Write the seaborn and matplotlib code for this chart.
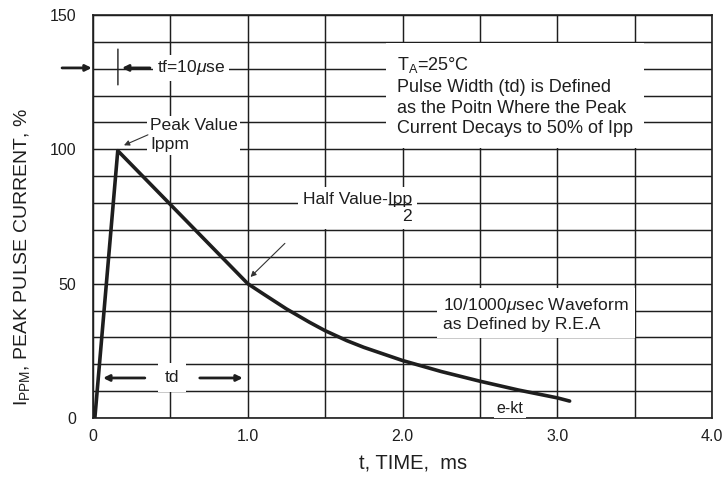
import matplotlib
matplotlib.use("Agg")
import matplotlib.pyplot as plt
import seaborn as sns
import pandas as pd
import numpy as np

# ---- data ----
time_ms = [0.012, 0.16, 1.0, 1.1, 1.25, 1.4, 1.5, 1.64, 1.75, 2.0, 2.25, 2.5, 2.75, 3.0, 3.08]
current_pct = [0, 99.5, 50, 46.2, 40.6, 35.6, 32.5, 28.8, 26.3, 21.4, 17.3, 13.7, 10.4, 7.5, 6.3]
x_tick_vals = [0, 1, 2, 3, 4]
x_tick_labels = ["0", "1.0", "2.0", "3.0", "4.0"]
y_tick_vals = [0, 50, 100, 150]
y_tick_labels = ["0", "50", "100", "150"]

sns.set_style("white")
plt.rcParams['font.family'] = ['Liberation Sans', 'DejaVu Sans']
plt.rcParams['mathtext.fontset'] = 'custom'
plt.rcParams['mathtext.rm'] = 'Liberation Sans'
plt.rcParams['mathtext.it'] = 'Liberation Sans:italic'

INK = "#1e1e1e"
fig = plt.figure(figsize=(7.24, 4.86), dpi=100)
ax = fig.add_axes([93/724, 68/486, 619/724, 403/486])

df = pd.DataFrame({"t": time_ms, "i": current_pct})
sns.lineplot(data=df, x="t", y="i", ax=ax, color=INK, lw=2.6, sort=False,
             zorder=4, estimator=None)

ax.set_xlim(0, 4)
ax.set_ylim(0, 150)
ax.set_xticks(x_tick_vals)
ax.set_xticklabels(x_tick_labels)
ax.set_xticks(np.arange(0, 4.01, 0.5), minor=True)
ax.set_yticks(y_tick_vals)
ax.set_yticklabels(y_tick_labels)
ax.set_yticks(np.arange(0, 150.1, 10), minor=True)
ax.set_axisbelow(True)
ax.grid(which='both', color=INK, lw=1.05)
ax.tick_params(which='both', length=0)
ax.tick_params(axis='y', pad=12, labelsize=11.5, colors=INK)
ax.tick_params(axis='x', pad=8, labelsize=11.5, colors=INK)
for s in ax.spines.values():
    s.set_color(INK)
    s.set_linewidth(1.2)
ax.set_xlabel("")
ax.set_ylabel("")

fig.text(413/724, 1 - 463/486, "t, TIME,  ms", ha='center', va='center',
         fontsize=14.5, color=INK)
fig.text(22/724, 1 - 257/486, r"I$_{\mathregular{PPM}}$, PEAK PULSE CURRENT, %",
         ha='center', va='center', rotation=90, fontsize=14, color=INK)

box = lambda p: dict(boxstyle=f"square,pad={p}", facecolor='white', edgecolor='none')
FS = 12.6

ax.text(1.964, 135.2, r"T$_{\mathregular{A}}$=25°C" "\nPulse Width (td) is Defined\n"
        "as the Poitn Where the Peak\nCurrent Decays to 50% of Ipp",
        ha='left', va='top', fontsize=13.0, color=INK, linespacing=1.3,
        bbox=box(0.6), zorder=3)

ax.text(0.368, 111.5, "Peak Value\nIppm", ha='left', va='top', fontsize=FS,
        color=INK, linespacing=1.3, bbox=box(0.15), zorder=3)

ax.text(1.357, 84.2, "Half Value-Ipp\n2", ha='left', va='top', fontsize=FS,
        color=INK, linespacing=1.15, multialignment='right', bbox=box(0.3), zorder=3)
ax.annotate("", xy=(2.075, 79.4), xytext=(1.895, 79.4),
            arrowprops=dict(arrowstyle='-', color=INK, lw=1.0), zorder=4)

ax.text(2.262, 45.5, r"10/1000$\mu$sec Waveform" "\nas Defined by R.E.A",
        ha='left', va='top', fontsize=FS, color=INK, linespacing=1.2,
        bbox=box(0.35), zorder=3)

ax.text(0.413, 130.3, r"tf=10$\mu$se", ha='left', va='center', fontsize=FS,
        color=INK, bbox=box(0.2), zorder=3)
ax.text(0.51, 14.9, "td", ha='center', va='center', fontsize=FS,
        color=INK, bbox=box(0.4), zorder=3)
ax.text(2.695, 3.7, "e-kt", ha='center', va='center', fontsize=11.5,
        color=INK, bbox=box(0.15), zorder=3)

thick = dict(arrowstyle='-|>', color=INK, lw=2.0, mutation_scale=9, shrinkA=0, shrinkB=0)
thin = dict(arrowstyle='-|>', color="#333333", lw=0.8, mutation_scale=8, shrinkA=0, shrinkB=0)

ax.annotate("", xy=(-0.008, 130.3), xytext=(-0.2, 130.3), arrowprops=thick,
            annotation_clip=False)
ax.annotate("", xy=(0.187, 130.3), xytext=(0.368, 130.3), arrowprops=thick)
ax.annotate("", xy=(0.161, 124), xytext=(0.161, 137.3),
            arrowprops=dict(arrowstyle='-', color=INK, lw=1.0, shrinkA=0, shrinkB=0))
ax.annotate("", xy=(0.065, 14.9), xytext=(0.335, 14.9), arrowprops=thick)
ax.annotate("", xy=(0.968, 14.9), xytext=(0.69, 14.9), arrowprops=thick)
ax.annotate("", xy=(0.2, 101.5), xytext=(0.355, 105.4), arrowprops=thin)
ax.annotate("", xy=(1.018, 52.5), xytext=(1.24, 65.0), arrowprops=thin)

fig.savefig("out.png", dpi=100)
